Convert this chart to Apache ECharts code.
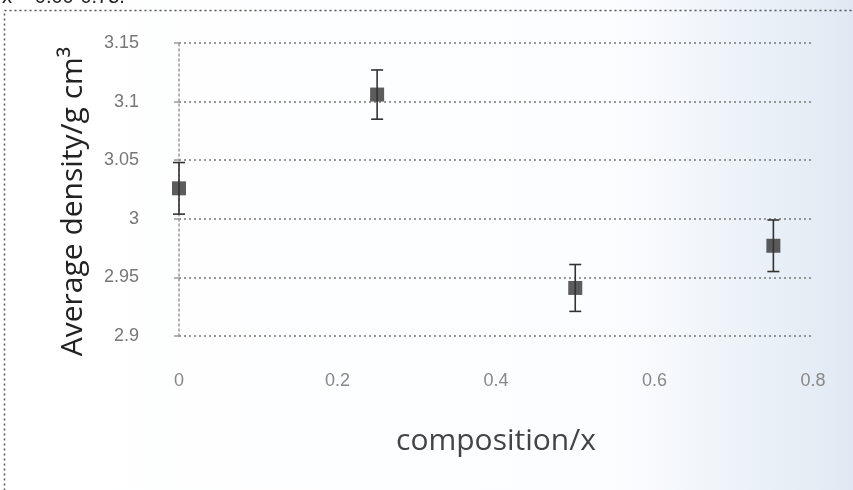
<!DOCTYPE html>
<html>
<head>
<meta charset="utf-8">
<script src="https://cdn.jsdelivr.net/npm/echarts@6/dist/echarts.min.js"></script>
<style>html,body{margin:0;padding:0;background:#fff}#c{width:853px;height:490px}</style>
</head>
<body>
<div id="c"></div>
<script>
const compositions = [0, 0.25, 0.5, 0.75];
const densities = [3.026, 3.106, 2.941, 2.977];
const errors = [0.022, 0.021, 0.020, 0.022];
const yTicks = ['3.15', '3.1', '3.05', '3', '2.95', '2.9'];
const xTicks = ['0', '0.2', '0.4', '0.6', '0.8'];

const chart = echarts.init(document.getElementById('c'));
const pts = compositions.map((x, i) => [x, densities[i]]);
const bars = compositions.map((x, i) => [x, densities[i] - errors[i], densities[i] + errors[i]]);

chart.setOption({
  animation: false,
  backgroundColor: {
    type: 'linear', x: 0, y: 0, x2: 1, y2: 0,
    colorStops: [{offset: 0, color: '#ffffff'}, {offset: 0.72, color: '#fcfdff'}, {offset: 1, color: '#e0e9f3'}]
  },
  graphic: [
    {type: 'rect', shape: {x: 4.5, y: 10.5, width: 900, height: 600}, style: {fill: 'none', stroke: '#555', lineWidth: 1.5, lineDash: [2, 3]}},
    {type: 'text', left: 2, top: -13, style: {text: 'x = 0.00-0.75.', font: '20px "Liberation Sans", sans-serif', fill: '#222'}}
  ],
  grid: {left: 179, right: 40, top: 43, bottom: 154},
  xAxis: {
    type: 'value', min: 0, max: 0.8, interval: 0.2,
    name: 'composition/x', nameLocation: 'middle', nameGap: 90,
    nameTextStyle: {fontSize: 30, color: '#444', fontFamily: 'Open Sans'},
    axisLine: {show: false},
    axisTick: {show: false},
    splitLine: {show: false},
    axisLabel: {margin: 36, fontSize: 18, color: '#888', fontFamily: 'Liberation Sans',
      formatter: v => xTicks[Math.round(v / 0.2)]}
  },
  yAxis: {
    type: 'value', min: 2.9, max: 3.15, interval: 0.05,
    name: 'Average density/g cm³', nameLocation: 'middle', nameGap: 91,
    nameTextStyle: {fontSize: 30, color: '#222', fontFamily: 'Open Sans', padding: [0, 24, 0, 0]},
    axisLine: {show: true, onZero: false, lineStyle: {color: '#999', type: [2, 3], width: 1.5}},
    axisTick: {show: true, length: 5, lineStyle: {color: '#999', width: 1.5}},
    splitLine: {show: true, lineStyle: {color: '#777', type: [2, 3], width: 1.5}},
    axisLabel: {margin: 40, fontSize: 18, color: '#777', fontFamily: 'Liberation Sans',
      formatter: v => yTicks[Math.round((3.15 - v) / 0.05)]}
  },
  series: [
    {
      type: 'custom',
      data: bars,
      encode: {x: 0, y: [1, 2]},
      renderItem: (params, api) => {
        const lo = api.coord([api.value(0), api.value(1)]);
        const hi = api.coord([api.value(0), api.value(2)]);
        const w = 6;
        const st = {stroke: '#333', lineWidth: 1.6};
        return {type: 'group', children: [
          {type: 'line', shape: {x1: lo[0], y1: lo[1], x2: hi[0], y2: hi[1]}, style: st},
          {type: 'line', shape: {x1: lo[0] - w, y1: lo[1], x2: lo[0] + w, y2: lo[1]}, style: st},
          {type: 'line', shape: {x1: hi[0] - w, y1: hi[1], x2: hi[0] + w, y2: hi[1]}, style: st}
        ]};
      },
      z: 3
    },
    {
      type: 'scatter', data: pts, symbol: 'rect', symbolSize: 14,
      itemStyle: {color: '#333'}, z: 4
    }
  ]
});
</script>
</body>
</html>
